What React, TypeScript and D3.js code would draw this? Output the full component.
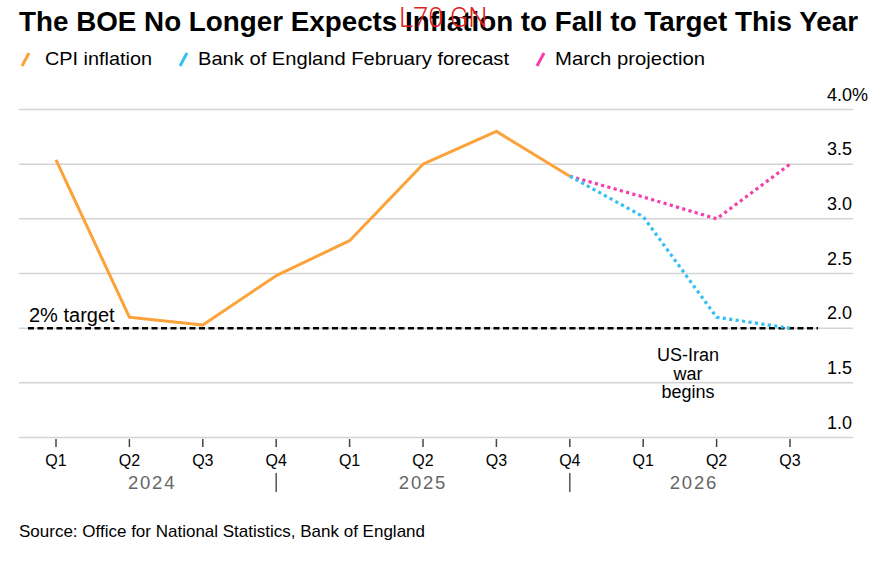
import React from "react";
import * as d3 from "d3";

// quarters on the x axis
const quarters = [
  "2024Q1", "2024Q2", "2024Q3", "2024Q4",
  "2025Q1", "2025Q2", "2025Q3", "2025Q4",
  "2026Q1", "2026Q2", "2026Q3",
];
const quarterLabels = ["Q1", "Q2", "Q3", "Q4", "Q1", "Q2", "Q3", "Q4", "Q1", "Q2", "Q3"];

const cpiQuarters = quarters.slice(0, 8);
const cpiValues = [3.54, 2.1, 2.03, 2.48, 2.8, 3.5, 3.8, 3.39];

const febQuarters = ["2025Q4", "2026Q1", "2026Q2", "2026Q3"];
const febValues = [3.39, 3.02, 2.1, 2.0];

const marchQuarters = ["2025Q4", "2026Q1", "2026Q2", "2026Q3"];
const marchValues = [3.39, 3.2, 3.0, 3.5];

const yTicks = [1.0, 1.5, 2.0, 2.5, 3.0, 3.5, 4.0];
const years = ["2024", "2025", "2026"];
const yearSeparators = ["2024Q4", "2025Q4"];

const legendItems = [
  { label: "CPI inflation", color: "#fba23a", x: 22, len: 107 },
  { label: "Bank of England February forecast", color: "#36c0f2", x: 180, len: 311 },
  { label: "March projection", color: "#f43fae", x: 537, len: 150 },
];

const FONT = "'Liberation Sans', Arial, Helvetica, sans-serif";

export default function App() {
  const width = 892;
  const height = 562;

  const x = d3.scalePoint<string>().domain(quarters).range([56, 790]);
  const y = d3.scaleLinear().domain([1, 4]).range([437.5, 109.5]);

  const line = d3
    .line<[string, number]>()
    .x((d) => x(d[0])!)
    .y((d) => y(d[1]));

  const cpi = line(cpiQuarters.map((q, i) => [q, cpiValues[i]]));
  const feb = line(febQuarters.map((q, i) => [q, febValues[i]]));
  const march = line(marchQuarters.map((q, i) => [q, marchValues[i]]));

  const gridLeft = 19;
  const gridRight = 853;
  const axisLeft = 28;
  const axisRight = 818;

  // year groups run between separators
  const bounds = [axisLeft, ...yearSeparators.map((q) => x(q)!), axisRight];

  return (
    <svg
      width={width}
      height={height}
      style={{ position: "absolute", left: 0, top: 0, background: "#fff" }}
      fontFamily={FONT}
    >
      <text
        x={19}
        y={31}
        fontSize={28}
        fontWeight="bold"
        fill="#000"
        textLength={839}
        lengthAdjust="spacingAndGlyphs"
      >
        The BOE No Longer Expects Inflation to Fall to Target This Year
      </text>

      {/* legend */}
      {legendItems.map((item) => (
        <g key={item.label} transform={`translate(${item.x},0)`}>
          <line x1={0} y1={66} x2={7} y2={53} stroke={item.color} strokeWidth={3} />
          <text
            x={item.x === 22 ? 23 : 18}
            y={65}
            fontSize={19}
            fill="#000"
            textLength={item.len}
            lengthAdjust="spacingAndGlyphs"
          >
            {item.label}
          </text>
        </g>
      ))}

      {/* gridlines */}
      {yTicks.map((t) => (
        <line
          key={t}
          x1={gridLeft}
          x2={gridRight}
          y1={y(t)}
          y2={y(t)}
          stroke="#d4d4d4"
          strokeWidth={1.5}
        />
      ))}
      {yTicks.map((t) => (
        <text key={"l" + t} x={827} y={y(t) - 9} fontSize={18} fill="#000">
          {t.toFixed(1)}
          {t === 4 ? "%" : ""}
        </text>
      ))}

      {/* 2% target */}
      <line
        x1={axisLeft}
        x2={axisRight}
        y1={y(2)}
        y2={y(2)}
        stroke="#000"
        strokeWidth={2.5}
        strokeDasharray="6 3.5"
      />
      <text x={29} y={321.5} fontSize={20} fill="#000">
        2% target
      </text>

      {/* lines */}
      <path d={march ?? ""} fill="none" stroke="#f43fae" strokeWidth={3.2} strokeDasharray="3.2 3.3" />
      <path d={feb ?? ""} fill="none" stroke="#36c0f2" strokeWidth={3.2} strokeDasharray="3.2 3.3" />
      <path d={cpi ?? ""} fill="none" stroke="#fba23a" strokeWidth={3} strokeLinejoin="round" />

      {/* annotation */}
      <text x={688} y={361} fontSize={18} fill="#000" textAnchor="middle">
        <tspan x={688}>US-Iran</tspan>
        <tspan x={688} dy={18.5}>war</tspan>
        <tspan x={688} dy={18.5}>begins</tspan>
      </text>

      {/* x axis */}
      {quarters.map((q, i) => (
        <g key={q}>
          <line x1={x(q)} x2={x(q)} y1={439} y2={447} stroke="#444" strokeWidth={1.5} />
          <text x={x(q)} y={466} fontSize={16} fill="#000" textAnchor="middle">
            {quarterLabels[i]}
          </text>
        </g>
      ))}
      {yearSeparators.map((q) => (
        <line key={q} x1={x(q)} x2={x(q)} y1={473} y2={492} stroke="#555" strokeWidth={1.5} />
      ))}
      {years.map((yr, i) => (
        <text
          key={yr}
          x={(bounds[i] + bounds[i + 1]) / 2}
          y={489}
          fontSize={18.5}
          fill="#666"
          textAnchor="middle"
          letterSpacing={1.8}
        >
          {yr}
        </text>
      ))}

      <text x={19} y={537} fontSize={17} fill="#000">
        Source: Office for National Statistics, Bank of England
      </text>

      <text x={399} y={27} fontSize={27} fill="#e0201c" fontFamily="Roboto, sans-serif" fontWeight={300}>
        L70 GN
      </text>
    </svg>
  );
}
